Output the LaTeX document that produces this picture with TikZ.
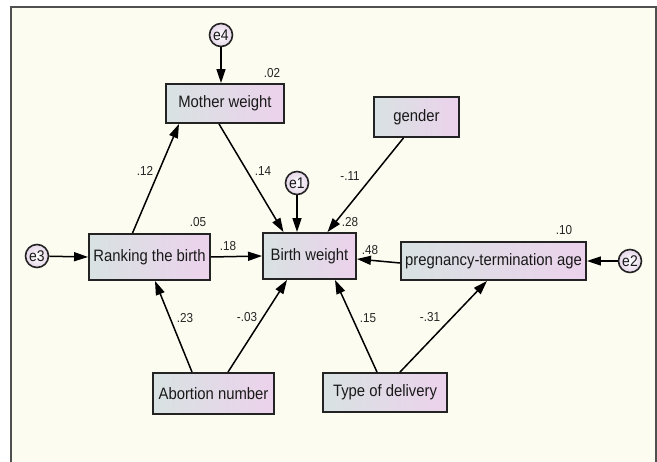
\documentclass[tikz,border=0pt]{standalone}
\usepackage{fontspec}
\setmainfont{Liberation Sans}[FakeStretch=0.9]
\usetikzlibrary{arrows.meta,shadings}
\definecolor{cream}{RGB}{252,252,240}
\definecolor{frameg}{RGB}{80,80,80}
\definecolor{boxl}{RGB}{216,226,226}
\definecolor{boxr}{RGB}{236,210,236}
\definecolor{edge}{RGB}{35,35,35}
\tikzset{
  var/.style={draw=edge, line width=1.9pt, left color=boxl, right color=boxr,
    inner sep=0pt, font=\fontsize{16.5}{18}\selectfont, text=black!90},
  err/.style={circle, draw=edge, line width=1.6pt, inner color=white, outer color=boxr!70!boxl,
    minimum size=23pt, inner sep=0pt, font=\fontsize{15.5}{17}\selectfont, text=black!90},
  coef/.style={font=\fontsize{13}{14}\selectfont, text=black!85, inner sep=0pt},
  path/.style={line width=1.5pt, draw=black, -{Triangle[length=14pt,width=9pt]}}
}
\begin{document}
\begin{tikzpicture}[x=1pt,y=-1pt]
\useasboundingbox (0,0) rectangle (657,462);
\fill[white] (0,0) rectangle (657,462);
\fill[cream] (11,7) rectangle (656,462);
\draw[frameg, line width=1.3pt] (11,462) -- (11,7) -- (656,7) -- (656,462);

% variables
\node[var, minimum width=118pt, minimum height=39pt] (mw) at (225,103.5) {Mother weight};
\node[var, minimum width=121pt, minimum height=46pt] (rb) at (149.5,257) {Ranking the birth};
\node[var, minimum width=93pt, minimum height=46pt] (bw) at (309.5,256) {Birth weight};
\node[var, minimum width=85pt, minimum height=40pt] (gd) at (416.5,117) {gender};
\node[var, minimum width=185pt, minimum height=38pt] (pt) at (493.5,261) {pregnancy-termination age};
\node[var, minimum width=121pt, minimum height=41pt] (ab) at (213.5,393.5) {Abortion number};
\node[var, minimum width=124pt, minimum height=39pt] (td) at (385,392.5) {Type of delivery};

% errors
\node[err] (e4) at (221,35) {e4};
\node[err] (e1) at (297,183) {e1};
\node[err] (e3) at (37,256) {e3};
\node[err] (e2) at (630,261) {e2};

% paths
\draw[path] (e4) -- (e4 |- mw.north);
\draw[path] (e1) -- (e1 |- bw.north);
\draw[path] (e3) -- (rb.west);
\draw[path] (e2) -- (pt.east);
\draw[path] ([xshift=-17pt]rb.north) -- ([xshift=-46pt]mw.south);
\draw[path] ([xshift=-6pt]mw.south) -- ([xshift=-26pt]bw.north);
\draw[path] ([xshift=-13pt]gd.south) -- ([xshift=18pt]bw.north);
\draw[path] (rb.east) -- (bw.west);
\draw[path] ([yshift=-2pt]pt.west) -- ([yshift=-3pt]bw.east);
\draw[path] ([xshift=-21.5pt]ab.north) -- ([xshift=5.5pt]rb.south);
\draw[path] ([xshift=14.5pt]ab.north) -- ([xshift=-22.5pt]bw.south);
\draw[path] ([xshift=-8pt]td.north) -- ([xshift=25.5pt]bw.south);
\draw[path] ([xshift=15pt]td.north) -- ([xshift=-6.5pt]pt.south);

% coefficients
\node[coef] (c02) at (272,73) {.02};
\node[coef] (c12) at (145,171) {.12};
\node[coef] (c14) at (263,171) {.14};
\node[coef] (c05) at (198,222) {.05};
\node[coef] (c28) at (350,222) {.28};
\node[coef] (c11) at (350,176) {-.11};
\node[coef] (c18) at (228,246) {.18};
\node[coef] (c48) at (370,250) {.48};
\node[coef] (c10) at (564,230) {.10};
\node[coef] (c23) at (185,318) {.23};
\node[coef] (c03) at (247,317) {-.03};
\node[coef] (c15) at (368,318) {.15};
\node[coef] (c31) at (430,317) {-.31};
\end{tikzpicture}
\end{document}
